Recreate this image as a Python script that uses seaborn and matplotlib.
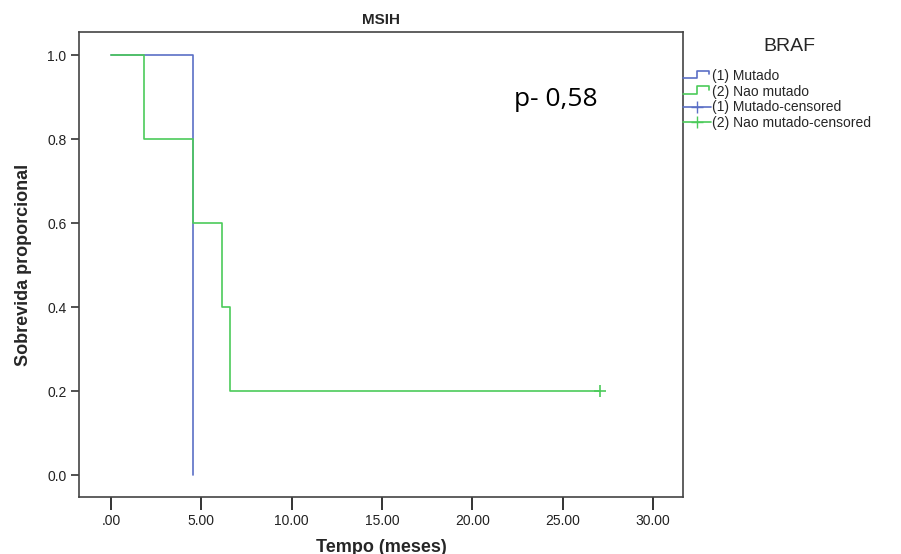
import numpy as np
import pandas as pd
import matplotlib
matplotlib.use("Agg")
import matplotlib.pyplot as plt
import seaborn as sns
from matplotlib.lines import Line2D
from matplotlib.legend_handler import HandlerBase

sns.set_style("ticks")
plt.rcParams['font.family'] = ['Liberation Sans', 'DejaVu Sans']

# Kaplan-Meier steps (tempo em meses, sobrevida)
mutado_t = [0.0, 4.55, 4.55]
mutado_s = [1.0, 1.0, 0.0]
nao_mutado_t = [0.0, 1.85, 4.55, 6.15, 6.6, 27.05]
nao_mutado_s = [1.0, 0.8, 0.6, 0.4, 0.2, 0.2]
censor_t = [27.05]
censor_s = [0.2]

x_ticks = [0, 5, 10, 15, 20, 25, 30]
x_labels = ['.00', '5.00', '10.00', '15.00', '20.00', '25.00', '30.00']
y_ticks = [0.0, 0.2, 0.4, 0.6, 0.8, 1.0]

BLUE = '#5b6fc6'
GREEN = '#4ccb5a'


class StepHandler(HandlerBase):
    # desenha o simbolo em degrau do SPSS na legenda
    def create_artists(self, legend, orig_handle, xdescent, ydescent,
                       width, height, fontsize, trans):
        y0 = height * 0.2 - ydescent
        y1 = height * 0.95 - ydescent
        xs = [-xdescent, width * 0.5, width * 0.5, width * 0.95, width * 0.95]
        ys = [y0, y0, y1, y1, y1 - height * 0.35]
        ln = Line2D(xs, ys, color=orig_handle.get_color(), lw=1.2, transform=trans)
        return [ln]


df = pd.concat([
    pd.DataFrame({'t': mutado_t, 's': mutado_s, 'grupo': '(1) Mutado'}),
    pd.DataFrame({'t': nao_mutado_t, 's': nao_mutado_s, 'grupo': '(2) Nao mutado'}),
])

fig = plt.figure(figsize=(9.01, 5.54), dpi=100)
ax = fig.add_axes([79 / 901, 1 - 497 / 554, (683 - 79) / 901, (497 - 32) / 554])

for grupo, cor in [('(1) Mutado', BLUE), ('(2) Nao mutado', GREEN)]:
    sub = df[df['grupo'] == grupo]
    sns.lineplot(data=sub, x='t', y='s', ax=ax, color=cor, lw=1.2,
                 drawstyle='steps-post', estimator=None, sort=False, legend=False)

ax.plot(censor_t, censor_s, marker='+', ms=8, mew=1.2, color=GREEN, ls='none')

ax.set_xlim(-1.77, 31.65)
ax.set_ylim(-0.052, 1.055)
ax.set_xticks(x_ticks)
ax.set_xticklabels(x_labels)
ax.set_yticks(y_ticks)
ax.set_yticklabels([f'{v:.1f}' for v in y_ticks])
ax.tick_params(axis='x', direction='out', length=9, width=1.4, pad=3)
ax.tick_params(axis='y', direction='out', length=6, width=1.2, pad=3)
ax.tick_params(colors='#333333', labelsize=10, labelcolor='#222222')
for sp in ax.spines.values():
    sp.set_color('#444444')
    sp.set_linewidth(1.2)

ax.set_xlabel('Tempo (meses)', fontsize=13, fontweight='bold', labelpad=8)
ax.set_ylabel('Sobrevida proporcional', fontsize=13, fontweight='bold', labelpad=11)
ax.set_title('MSIH', fontsize=11, fontweight='bold', pad=6)

ax.text(0.72, 0.854, 'p- 0,58', transform=ax.transAxes, fontsize=19, va='center',
        color='black', family=['Open Sans', 'DejaVu Sans'])

step_blue = Line2D([], [], color=BLUE)
step_green = Line2D([], [], color=GREEN)
handles = [
    step_blue,
    step_green,
    Line2D([], [], color=BLUE, lw=1.2, marker='+', ms=9),
    Line2D([], [], color=GREEN, lw=1.2, marker='+', ms=9),
]
labels = ['(1) Mutado', '(2) Nao mutado', '(1) Mutado-censored', '(2) Nao mutado-censored']
leg = fig.legend(handles, labels, title='BRAF', loc='upper left',
                 bbox_to_anchor=(683 / 901, 1 - 38 / 554), frameon=False,
                 fontsize=10, title_fontsize=14, handlelength=2.0, handletextpad=0.1,
                 labelspacing=0.13, borderaxespad=0, borderpad=0,
                 handler_map={step_blue: StepHandler(), step_green: StepHandler()})
leg._legend_box.align = 'left'
leg._legend_box.sep = 10
leg.get_title().set_position((80, 0))

fig.savefig('out.png', dpi=100)
